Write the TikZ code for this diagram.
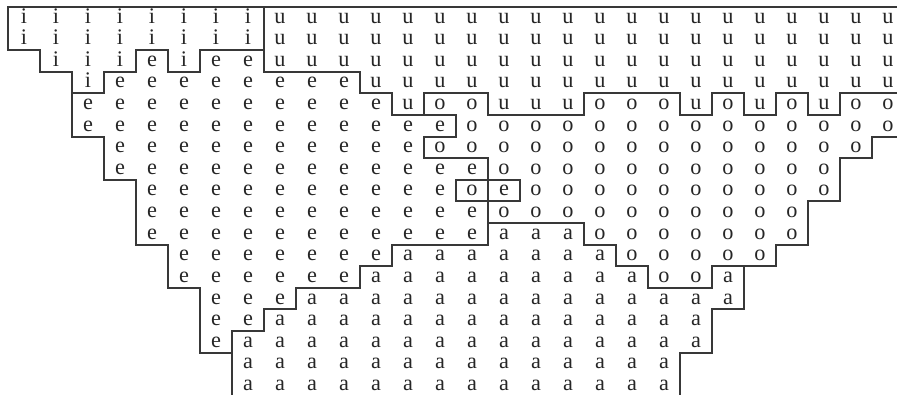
\documentclass[tikz,border=0pt]{standalone}
\usepackage{fontspec}
\setmainfont{Liberation Serif}
\tikzset{
  vow/.style={font=\fontsize{9.5}{11}\selectfont,text=black!85,inner sep=0pt,
    text height=1ex,text depth=0pt},      % one vowel in a cell
  bnd/.style={line width=0.8pt,black!78},  % region border
}
\begin{document}
\begin{tikzpicture}[x=0.48cm,y=-0.324cm]
  \useasboundingbox (-0.25,-0.324) rectangle (27.78,17.92);
  \clip (-0.25,-0.324) rectangle (27.78,17.92);
  % runs of letters: row/first col/last col/letter
  \foreach \r/\a/\b/\l in {0/0/7/i, 0/8/27/u,
      1/0/7/i, 1/8/27/u,
      2/1/3/i, 2/4/4/e, 2/5/5/i, 2/6/7/e, 2/8/27/u,
      3/2/2/i, 3/3/10/e, 3/11/27/u,
      4/2/11/e, 4/12/12/u, 4/13/14/o, 4/15/17/u, 4/18/20/o, 4/21/21/u,
      4/22/22/o, 4/23/23/u, 4/24/24/o, 4/25/25/u, 4/26/27/o,
      5/2/13/e, 5/14/27/o,
      6/3/12/e, 6/13/26/o,
      7/3/14/e, 7/15/25/o,
      8/4/13/e, 8/14/14/o, 8/15/15/e, 8/16/25/o,
      9/4/14/e, 9/15/24/o,
      10/4/14/e, 10/15/17/a, 10/18/24/o,
      11/5/11/e, 11/12/18/a, 11/19/23/o,
      12/5/10/e, 12/11/19/a, 12/20/21/o, 12/22/22/a,
      13/6/8/e, 13/9/22/a,
      14/6/7/e, 14/8/21/a,
      15/6/6/e, 15/7/21/a,
      16/7/20/a,
      17/7/20/a}{
    \foreach \c in {\a,...,\b}
      \node[vow] (v-\r-\c) at (\c+.5,\r+.5) {\l};
  }
  % outer edge
  \draw[bnd] (28,0) -- (0,0) -- (0,2) -- (1,2) -- (1,3) -- (2,3) -- (2,6) -- (3,6)
    -- (3,8) -- (4,8) -- (4,11) -- (5,11) -- (5,13) -- (6,13) -- (6,16) -- (7,16) -- (7,18);
  \draw[bnd] (28,6) -- (27,6) -- (27,7) -- (26,7) -- (26,9) -- (25,9) -- (25,11) -- (24,11)
    -- (24,12) -- (23,12) -- (23,14) -- (22,14) -- (22,16) -- (21,16) -- (21,18);
  % i region
  \draw[bnd] (2,4) -- (3,4) -- (3,3) -- (4,3) -- (4,2) -- (5,2) -- (5,3) -- (6,3) -- (6,2) -- (8,2);
  % u | e | o | a
  \draw[bnd] (8,0) -- (8,3) -- (11,3) -- (11,4) -- (12,4) -- (12,5) -- (14,5) -- (14,6)
    -- (13,6) -- (13,7) -- (15,7) -- (15,11) -- (12,11) -- (12,12) -- (11,12) -- (11,13)
    -- (9,13) -- (9,14) -- (8,14) -- (8,15) -- (7,15) -- (7,16);
  \draw[bnd] (13,5) -- (13,4) -- (15,4) -- (15,5) -- (18,5) -- (18,4) -- (21,4) -- (21,5)
    -- (22,5) -- (22,4) -- (23,4) -- (23,5) -- (24,5) -- (24,4) -- (25,4) -- (25,5)
    -- (26,5) -- (26,4) -- (28,4);
  \draw[bnd] (15,10) -- (18,10) -- (18,11) -- (19,11) -- (19,12) -- (20,12) -- (20,13)
    -- (22,13) -- (22,12) -- (23,12);
  % swapped pair
  \draw[bnd] (14,8) rectangle (16,9);
\end{tikzpicture}
\end{document}
